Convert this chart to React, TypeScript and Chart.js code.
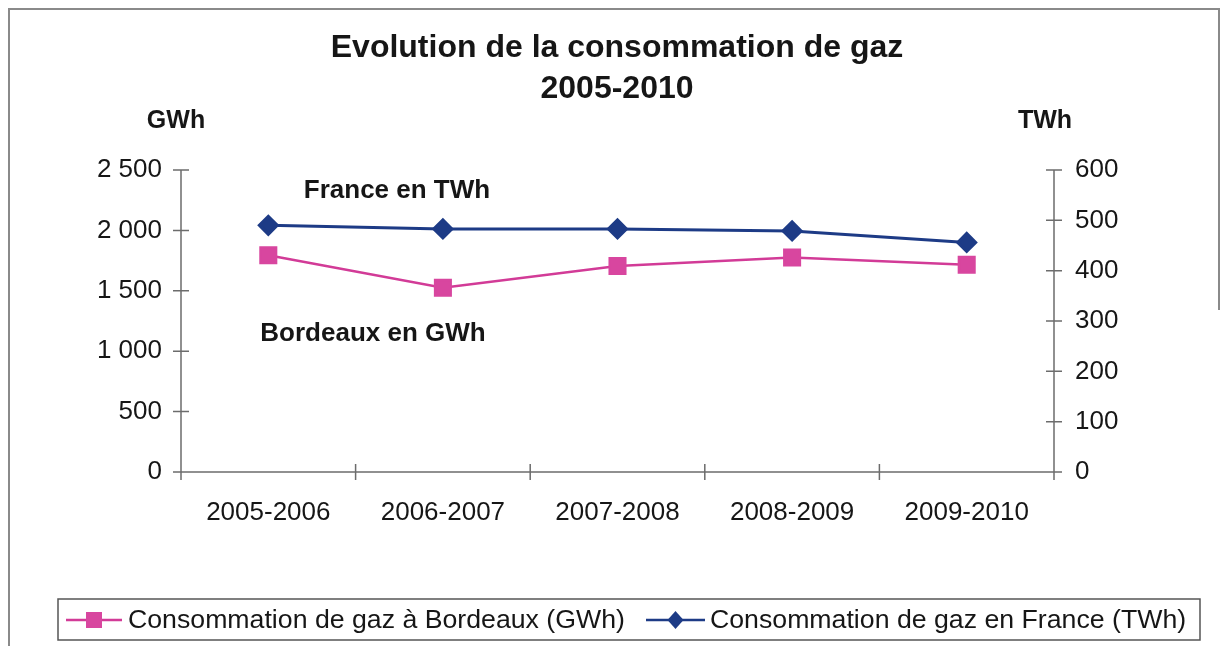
import React, { useEffect, useRef } from 'react';
import { Chart, registerables } from 'chart.js';

Chart.register(...registerables);

const categories = ['2005-2006', '2006-2007', '2007-2008', '2008-2009', '2009-2010'];
const bordeauxGWh = [1795, 1525, 1705, 1775, 1715];
const franceTWh = [490, 483, 483, 479, 456];
const leftTicks = [0, 500, 1000, 1500, 2000, 2500];
const rightTicks = [0, 100, 200, 300, 400, 500, 600];
const titleLines = ['Evolution de la consommation de gaz', '2005-2010'];
const unitLeft = 'GWh';
const unitRight = 'TWh';
const annotFrance = 'France en TWh';
const annotBordeaux = 'Bordeaux en GWh';
const seriesNames = ['Consommation de gaz à Bordeaux (GWh)', 'Consommation de gaz en France (TWh)'];

const PINK = '#d23b97';
const BLUE = '#1d3b86';
const AXIS = '#6c6c6c';
const FONT = '"Liberation Sans", Arial, sans-serif';

function fmt(v: number): string {
  if (v >= 1000) {
    const t = Math.floor(v / 1000);
    const r = String(v % 1000).padStart(3, '0');
    return `${t} ${r}`;
  }
  return String(v);
}

const decor = {
  id: 'decor',
  beforeDraw(chart: any) {
    const ctx = chart.ctx;
    ctx.save();
    ctx.fillStyle = '#ffffff';
    ctx.fillRect(0, 0, chart.width, chart.height);
    ctx.strokeStyle = '#8a8a8a';
    ctx.lineWidth = 2;
    ctx.beginPath();
    ctx.moveTo(9, 646);
    ctx.lineTo(9, 9);
    ctx.lineTo(1219, 9);
    ctx.lineTo(1219, 310);
    ctx.stroke();
    ctx.restore();
  },
  beforeDatasetsDraw(chart: any) {
    const ctx = chart.ctx;
    const { left, right, top, bottom } = chart.chartArea;
    const yL = chart.scales.y;
    const yR = chart.scales.y1;
    const x = chart.scales.x;
    ctx.save();
    ctx.strokeStyle = AXIS;
    ctx.lineWidth = 1.5;
    ctx.beginPath();
    ctx.moveTo(left, top);
    ctx.lineTo(left, bottom);
    ctx.moveTo(right, top);
    ctx.lineTo(right, bottom);
    ctx.moveTo(left - 8, bottom);
    ctx.lineTo(right + 8, bottom);
    leftTicks.forEach((v) => {
      const py = yL.getPixelForValue(v);
      ctx.moveTo(left - 8, py);
      ctx.lineTo(left + 8, py);
    });
    rightTicks.forEach((v) => {
      const py = yR.getPixelForValue(v);
      ctx.moveTo(right - 8, py);
      ctx.lineTo(right + 8, py);
    });
    const half = (x.getPixelForValue(1) - x.getPixelForValue(0)) / 2;
    for (let i = 0; i <= categories.length; i++) {
      const px = x.getPixelForValue(0) - half + i * 2 * half;
      ctx.moveTo(px, bottom - 8);
      ctx.lineTo(px, bottom + 8);
    }
    ctx.stroke();
    ctx.restore();
  },
  afterDraw(chart: any) {
    const ctx = chart.ctx;
    ctx.save();
    ctx.fillStyle = '#161616';
    ctx.textAlign = 'center';
    ctx.textBaseline = 'middle';
    ctx.font = `bold 32px ${FONT}`;
    ctx.fillText(titleLines[0], 617, 48);
    ctx.fillText(titleLines[1], 617, 89);
    ctx.font = `bold 25px ${FONT}`;
    ctx.fillText(unitLeft, 176, 121);
    ctx.fillText(unitRight, 1045, 121);
    ctx.font = `bold 26px ${FONT}`;
    ctx.fillText(annotFrance, 397, 191);
    ctx.fillText(annotBordeaux, 373, 334);

    // legend
    ctx.strokeStyle = '#555555';
    ctx.lineWidth = 1.5;
    ctx.strokeRect(58, 599, 1142, 41);
    const ly = 620;
    const ds = chart.data.datasets;
    const items = [
      { x0: 66, x1: 122, tx: 128 },
      { x0: 646, x1: 705, tx: 710 },
    ];
    items.forEach((it, i) => {
      const d = ds[i];
      ctx.strokeStyle = d.borderColor;
      ctx.lineWidth = 2.5;
      ctx.beginPath();
      ctx.moveTo(it.x0, ly);
      ctx.lineTo(it.x1, ly);
      ctx.stroke();
      ctx.fillStyle = d.pointBackgroundColor;
      const cx = (it.x0 + it.x1) / 2;
      ctx.beginPath();
      if (d.pointStyle === 'rect') {
        ctx.rect(cx - 8, ly - 8, 16, 16);
      } else {
        ctx.moveTo(cx, ly - 9);
        ctx.lineTo(cx + 8, ly);
        ctx.lineTo(cx, ly + 9);
        ctx.lineTo(cx - 8, ly);
        ctx.closePath();
      }
      ctx.fill();
      ctx.fillStyle = '#161616';
      ctx.font = `26.7px ${FONT}`;
      ctx.textAlign = 'left';
      ctx.fillText(seriesNames[i], it.tx, ly + 1);
    });
    ctx.restore();
  },
};

export default function App() {
  const ref = useRef<HTMLCanvasElement | null>(null);
  useEffect(() => {
    if (!ref.current) return;
    const chart = new Chart(ref.current, {
      type: 'line',
      data: {
        labels: categories,
        datasets: [
          {
            label: seriesNames[0],
            data: bordeauxGWh,
            yAxisID: 'y',
            borderColor: PINK,
            backgroundColor: PINK,
            pointBackgroundColor: '#d8469f',
            pointBorderColor: '#d8469f',
            pointStyle: 'rect',
            pointRadius: 11,
            borderWidth: 2.5,
            tension: 0,
          },
          {
            label: seriesNames[1],
            data: franceTWh,
            yAxisID: 'y1',
            borderColor: BLUE,
            backgroundColor: BLUE,
            pointBackgroundColor: BLUE,
            pointBorderColor: BLUE,
            pointStyle: 'rectRot',
            pointRadius: 9,
            borderWidth: 3,
            tension: 0,
          },
        ],
      },
      options: {
        responsive: false,
        animation: false,
        devicePixelRatio: 1,
        layout: { padding: { top: 170, left: 0, right: 0, bottom: 0 } },
        plugins: {
          legend: { display: false },
          title: { display: false },
          tooltip: { enabled: false },
        },
        scales: {
          x: {
            type: 'category',
            offset: true,
            grid: { display: false, drawTicks: false },
            border: { display: false },
            ticks: {
              font: { family: FONT, size: 26 },
              color: '#161616',
              padding: 25,
              maxRotation: 0,
              autoSkip: false,
            },
            afterFit(scale: any) {
              scale.height = 174;
            },
          },
          y: {
            type: 'linear',
            position: 'left',
            min: 0,
            max: 2500,
            afterBuildTicks(scale: any) {
              scale.ticks = leftTicks.map((v) => ({ value: v }));
            },
            grid: { display: false, drawTicks: false },
            border: { display: false },
            ticks: {
              font: { family: FONT, size: 26 },
              color: '#161616',
              padding: 19,
              callback: (v: any) => fmt(Number(v)),
            },
            afterFit(scale: any) {
              scale.width = 181;
            },
          },
          y1: {
            type: 'linear',
            position: 'right',
            min: 0,
            max: 600,
            afterBuildTicks(scale: any) {
              scale.ticks = rightTicks.map((v) => ({ value: v }));
            },
            grid: { display: false, drawTicks: false },
            border: { display: false },
            ticks: {
              font: { family: FONT, size: 26 },
              color: '#161616',
              padding: 21,
              callback: (v: any) => String(v),
            },
            afterFit(scale: any) {
              scale.width = 174;
            },
          },
        },
      },
      plugins: [decor],
    });
    return () => chart.destroy();
  }, []);
  return (
    <div style={{ position: 'fixed', left: 0, top: 0, width: 1228, height: 646, background: '#fff' }}>
      <canvas ref={ref} width={1228} height={646} style={{ display: 'block' }} />
    </div>
  );
}
